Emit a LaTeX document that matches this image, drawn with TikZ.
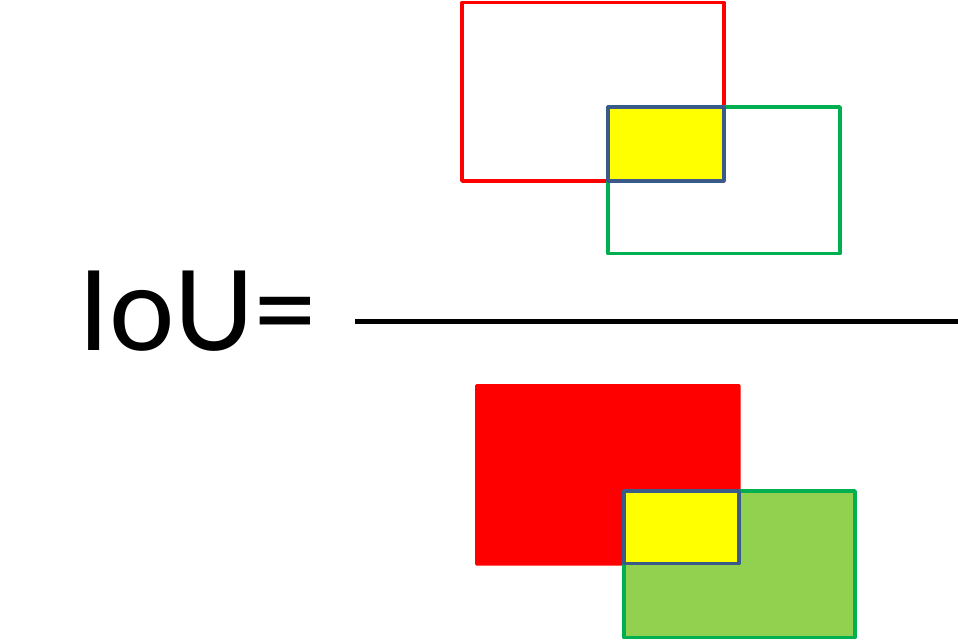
\documentclass[tikz,border=0pt]{standalone}
\usepackage{fontspec}
\setmainfont{Carlito}
\definecolor{boxred}{HTML}{FF0000}
\definecolor{boxgreen}{HTML}{00B050}
\definecolor{lightgreen}{HTML}{92D050}
\definecolor{interblue}{HTML}{3A5A8A}
\definecolor{interyellow}{HTML}{FFFF00}
\tikzset{
  edge/.style={line width=3.8pt, line join=round},
  redbox/.style={edge, draw=boxred},
  greenbox/.style={edge, draw=boxgreen},
  interbox/.style={edge, draw=interblue, fill=interyellow},
}
\begin{document}
\begin{tikzpicture}[x=1pt,y=-1pt]
\useasboundingbox (0,0) rectangle (958,640);
% numerator
\draw[redbox] (462,2.5) rectangle (724,181);
\draw[greenbox] (608,107) rectangle (840,253.5);
\draw[interbox] (608,107) rectangle (724,181);
% fraction line
\coordinate (fl) at (355,321.5);
\coordinate (fr) at (958,321.5);
\draw[line width=4.6pt] (fl) -- (fr);
% label
\node[anchor=base west, inner sep=0pt, font=\fontsize{124}{130}\selectfont] (iou) at (78,350) {IoU=};
% denominator
\fill[boxred, rounded corners=1.5pt] (475,384) rectangle (740.5,565.5);
\draw[greenbox, fill=lightgreen] (624,491) rectangle (855,637.5);
\draw[interbox] (624,491) rectangle (739,563.5);
\end{tikzpicture}
\end{document}
